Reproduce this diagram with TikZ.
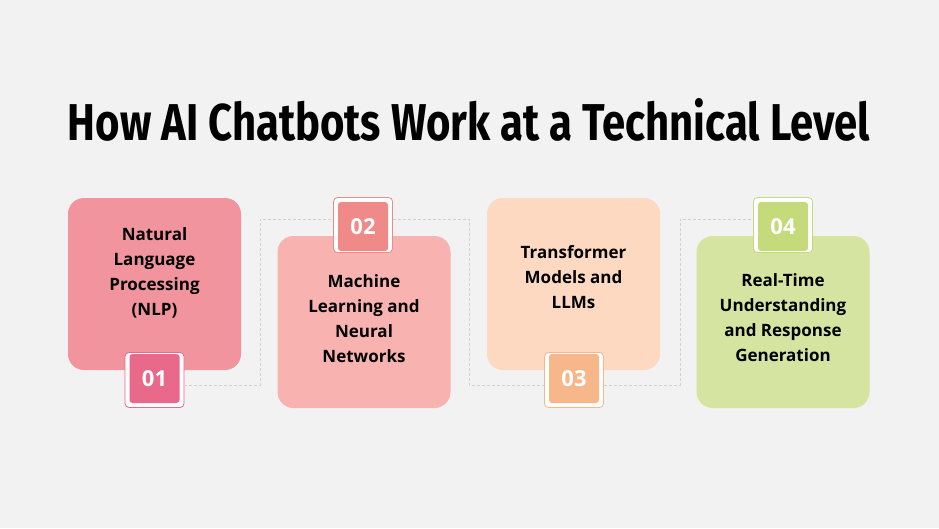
\documentclass[tikz,border=0pt]{standalone}
\usepackage{fontspec}
\setmainfont{Open Sans}
\newfontfamily\titlefont{Fira Sans}
\definecolor{bg}{HTML}{F2F2F2}
\definecolor{bxa}{HTML}{F2949E}\definecolor{bda}{HTML}{E8698A}
\definecolor{bxb}{HTML}{F8B3B1}\definecolor{bdb}{HTML}{F08A88}
\definecolor{bxc}{HTML}{FCD9C0}\definecolor{bdc}{HTML}{F8B78A}
\definecolor{bxd}{HTML}{D5E4A1}\definecolor{bdd}{HTML}{C5DA7A}
\tikzset{
 card/.style={rounded corners=16pt,minimum width=173pt,minimum height=172pt,inner sep=0pt},
 ctext/.style={inner sep=0pt,font=\fontsize{17}{25}\selectfont\bfseries,align=center},
 bout/.style={draw=#1,line width=0.8pt,fill=white,rounded corners=4pt,minimum width=59pt,minimum height=55pt},
 bin/.style={fill=#1,rounded corners=3pt,minimum width=50pt,minimum height=49pt,text=white,
   font=\fontsize{22}{24}\selectfont\bfseries},
 conn/.style={draw=black!18,line width=0.8pt,dash pattern=on 3pt off 2pt}
}
\begin{document}
\begin{tikzpicture}[x=1pt,y=-1pt]
\fill[bg] (0,0) rectangle (939,528);
\useasboundingbox (0,0) rectangle (939,528);
\node (title) at (469,120) {\resizebox{802pt}{42pt}{\titlefont\bfseries How AI Chatbots Work at a Technical Level}};
\coordinate (c1) at (260,385); \coordinate (c2) at (260,219);
\coordinate (c3) at (469,219); \coordinate (c4) at (469,385);
\coordinate (c5) at (680,385); \coordinate (c6) at (680,219);
\node[card,fill=bxa] (k1) at (154.5,284) {};
\node[card,fill=bxb] (k2) at (364,322) {};
\node[card,fill=bxc] (k3) at (573.5,284) {};
\node[card,fill=bxd] (k4) at (783,322) {};
\node[ctext] (t1) at (154.5,272.5) {Natural\\Language\\Processing\\(NLP)};
\node[ctext] (t2) at (364,318.5) {Machine\\Learning and\\Neural\\Networks};
\node[ctext] (t3) at (573.5,277) {Transformer\\Models and\\LLMs};
\node[ctext] (t4) at (783,317.5) {Real-Time\\Understanding\\and Response\\Generation};
\node[bout=bda] (o1) at (154.5,380) {}; \node[bin=bda] (b1) at (154.5,378.5) {01};
\node[bout=bdb] (o2) at (363,225) {}; \node[bin=bdb] (b2) at (363,226.5) {02};
\node[bout=bdc] (o3) at (574,380) {}; \node[bin=bdc] (b3) at (574,378.5) {03};
\node[bout=bdd] (o4) at (783,225) {}; \node[bin=bdd] (b4) at (783,226.5) {04};
\draw[conn] (o1.east|-c1) -- (c1) -- (c2) -- (o2.west|-c2);
\draw[conn] (o2.east|-c3) -- (c3) -- (c4) -- (o3.west|-c4);
\draw[conn] (o3.east|-c5) -- (c5) -- (c6) -- (o4.west|-c6);
\end{tikzpicture}
\end{document}
